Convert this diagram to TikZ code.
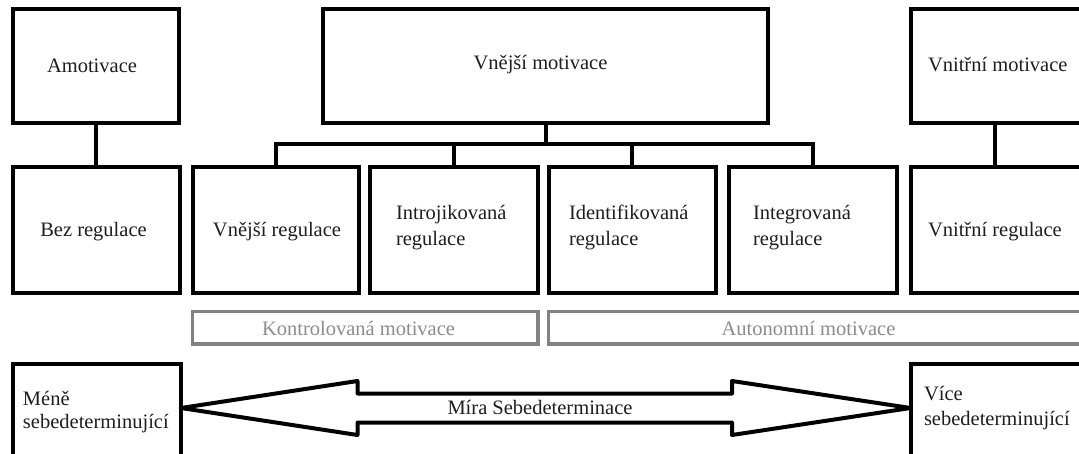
\documentclass[tikz,border=0pt]{standalone}
\usepackage{fontspec}
\setmainfont{Liberation Serif}
\usetikzlibrary{calc}
\definecolor{grayline}{RGB}{130,130,130}
\definecolor{graytext}{RGB}{140,140,140}
\definecolor{inktext}{RGB}{30,30,30}
\begin{document}
\begin{tikzpicture}[x=1pt,y=-1pt,
  blackbox/.style={draw=black,line width=4pt,rectangle,inner sep=0pt,outer sep=0pt},
  graybox/.style={draw=grayline,line width=3.3pt,rectangle,inner sep=0pt,outer sep=0pt},
  conn/.style={draw=black,line width=4pt},
  txt/.style={inner sep=0pt,outer sep=0pt,text=inktext,font=\fontsize{20.5}{24}\selectfont,align=left},
  txttwo/.style={txt,font=\fontsize{20.5}{26}\selectfont},
  graytxt/.style={txt,text=graytext},
  arrowline/.style={draw=black,line width=4pt,line join=round}]
\useasboundingbox (0,0) rectangle (1079,454);
\clip (0,0) rectangle (1079,454);
% top row
\node[blackbox,minimum width=166pt,minimum height=113.5pt] (amot) at (96,66.25) {};
\node[blackbox,minimum width=445pt,minimum height=113.5pt] (vnejsimot) at (545.5,66.25) {};
\node[blackbox,minimum width=184pt,minimum height=113.5pt] (vnitrnimot) at (1003,66.25) {};
% second row
\node[blackbox,minimum width=167pt,minimum height=126.5pt] (bez) at (96.5,230.25) {};
\node[blackbox,minimum width=166pt,minimum height=126.5pt] (vreg) at (276,230.25) {};
\node[blackbox,minimum width=168pt,minimum height=126.5pt] (intro) at (454,230.25) {};
\node[blackbox,minimum width=167.5pt,minimum height=126.5pt] (ident) at (632.25,230.25) {};
\node[blackbox,minimum width=168pt,minimum height=126.5pt] (integ) at (813,230.25) {};
\node[blackbox,minimum width=184pt,minimum height=126.5pt] (vnitrreg) at (1003,230.25) {};
% gray bands
\node[graybox,minimum width=345.5pt,minimum height=32.3pt] (kontrol) at (365.25,327.85) {};
\node[graybox,minimum width=546.5pt,minimum height=32.3pt] (auton) at (821.75,327.85) {};
% bottom boxes
\node[blackbox,minimum width=168pt,minimum height=116.3pt] (mene) at (97,421.85) {};
\node[blackbox,minimum width=184.5pt,minimum height=116.3pt] (vice) at (1002.75,421.85) {};
% texts
\node[txt,anchor=base] (tamot) at (92,73) {Amotivace};
\node[txt,anchor=base] (tvnejsimot) at (540.5,70) {Vnější motivace};
\node[txt,anchor=base west] (tvnitrnimot) at (928,72) {Vnitřní motivace};
\node[txt,anchor=base] (tbez) at (93.5,237) {Bez regulace};
\node[txt,anchor=base] (tvreg) at (277,237) {Vnější regulace};
\node[txttwo,anchor=base west] (tintro) at (396,246) {Introjikovaná\\regulace};
\node[txttwo,anchor=base west] (tident) at (569,246) {Identifikovaná\\regulace};
\node[txttwo,anchor=base west] (tinteg) at (753,246) {Integrovaná\\regulace};
\node[txt,anchor=base west] (tvnitrreg) at (928,237) {Vnitřní regulace};
\node[graytxt,anchor=base] (tkontrol) at (358.5,335) {Kontrolovaná motivace};
\node[graytxt,anchor=base] (tauton) at (808.5,335) {Autonomní motivace};
\node[txt,anchor=base west,font=\fontsize{20.5}{23}\selectfont] (tmene) at (23,428) {Méně\\sebedeterminující};
\node[txt,anchor=base west,font=\fontsize{20.5}{25}\selectfont] (tvice) at (924,425.5) {Více\\sebedeterminující};
% connectors
\coordinate (bar) at (545,143.7);
\draw[conn] (amot.south) -- (amot.south |- bez.north);
\draw[conn] ([xshift=84pt]vnitrnimot.south west) -- ([xshift=84pt]vnitrreg.north west);
\draw[conn] (vnejsimot.south) -- (vnejsimot.south |- bar);
\draw[conn] (vreg.north) -- (vreg.north |- bar) -| (integ.north);
\draw[conn] (intro.north) -- (intro.north |- bar);
\draw[conn] (ident.north) -- (ident.north |- bar);
% double arrow
\coordinate (ay) at (545,408);
\coordinate (tipL) at (mene.east |- ay);
\coordinate (tipR) at (vice.west |- ay);
\draw[arrowline] (tipL) -- ++(176.5,-27) -- ++(0,12.5) -- ($(tipR)+(-178.5,-14.5)$) -- ++(0,-12.5) -- (tipR)
  -- ++(-178.5,27) -- ++(0,-12.5) -- ($(tipL)+(176.5,14.5)$) -- ++(0,12.5) -- cycle;
\node[txt,anchor=base] (tmira) at (540,414) {Míra Sebedeterminace};
\end{tikzpicture}
\end{document}
